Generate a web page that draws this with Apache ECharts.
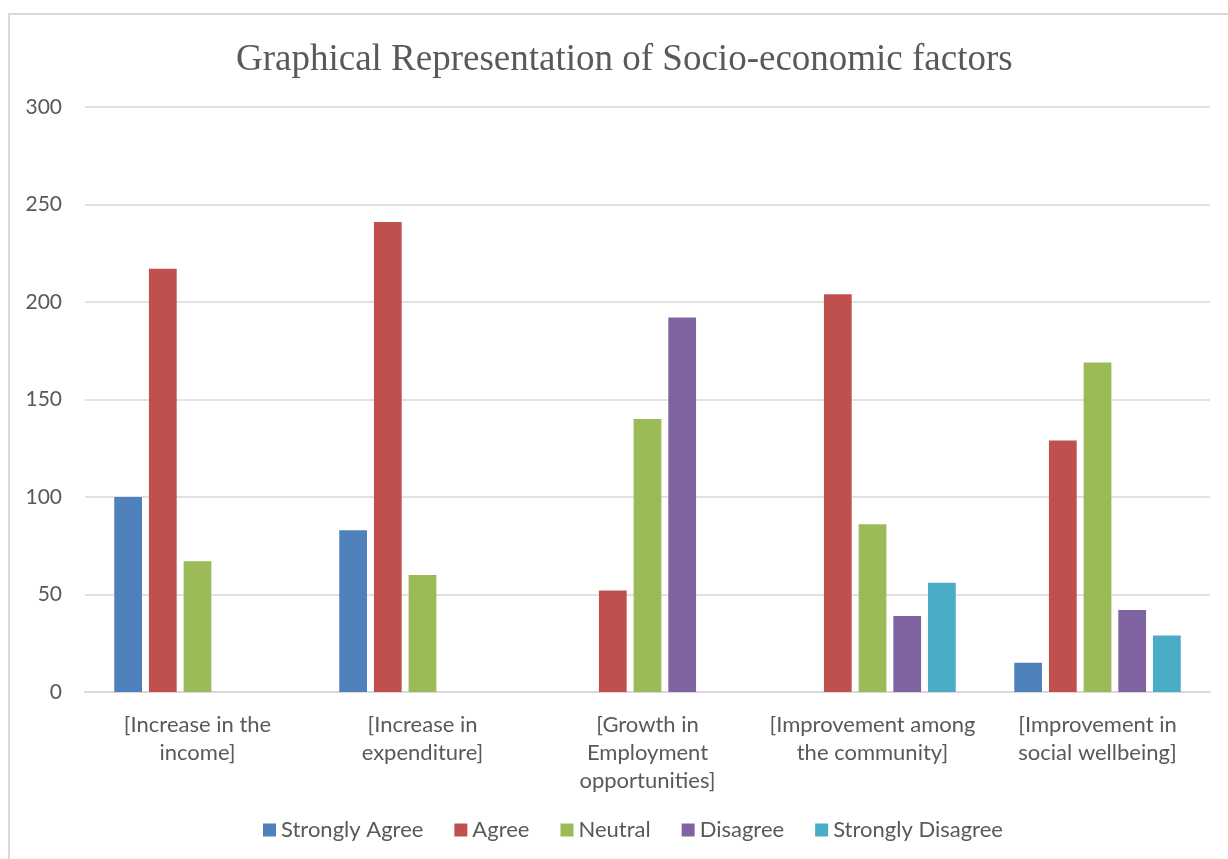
<!DOCTYPE html>
<html>
<head>
<meta charset="utf-8">
<script src="https://cdn.jsdelivr.net/npm/echarts@6/dist/echarts.min.js"></script>
<style>
  html, body { margin: 0; padding: 0; background: #fff; }
  #chart { width: 1228px; height: 859px; }
</style>
</head>
<body>
<div id="chart"></div>
<script>
// Survey responses per socio-economic factor
const categories = [
  '[Increase in the\nincome]',
  '[Increase in\nexpenditure]',
  '[Growth in\nEmployment\nopportunities]',
  '[Improvement among\nthe community]',
  '[Improvement in\nsocial wellbeing]'
];
const stronglyAgree    = [100,  83,   0,   0,  15];
const agree            = [217, 241,  52, 204, 129];
const neutral          = [ 67,  60, 140,  86, 169];
const disagree         = [  0,   0, 192,  39,  42];
const stronglyDisagree = [  0,   0,   0,  56,  29];

const seriesNames = ['Strongly Agree', 'Agree', 'Neutral', 'Disagree', 'Strongly Disagree'];
const seriesData = [stronglyAgree, agree, neutral, disagree, stronglyDisagree];
const colors = ['#4F81BD', '#C0504D', '#9BBB59', '#8064A2', '#4BACC6'];

const textFont = 'Lato, "Open Sans", sans-serif';
const textColor = '#595959';

const chart = echarts.init(document.getElementById('chart'), null, { renderer: 'canvas' });
chart.setOption({
  backgroundColor: '#ffffff',
  animation: false,
  color: colors,
  title: {
    text: 'Graphical Representation of Socio-economic factors',
    left: 231,
    top: 37,
    textStyle: {
      fontFamily: '"Liberation Serif", "Times New Roman", serif',
      fontSize: 37,
      fontWeight: 'normal',
      color: textColor
    }
  },
  graphic: [{
    type: 'rect',
    shape: { x: 9, y: 14, width: 1240, height: 870 },
    style: { fill: 'none', stroke: '#d9d9d9', lineWidth: 2 },
    silent: true
  }],
  legend: {
    data: seriesNames,
    bottom: 13,
    left: 258,
    itemWidth: 13,
    itemHeight: 13,
    itemGap: 31,
    icon: 'rect',
    textStyle: { fontFamily: textFont, fontSize: 22, color: textColor }
  },
  grid: { left: 85, right: 18, top: 107, bottom: 167, containLabel: false },
  xAxis: {
    type: 'category',
    data: categories,
    axisLine: { lineStyle: { color: '#d9d9d9', width: 2 } },
    axisTick: { show: false },
    axisLabel: {
      fontFamily: textFont,
      fontSize: 22,
      color: textColor,
      lineHeight: 28,
      margin: 19,
      interval: 0
    }
  },
  yAxis: {
    type: 'value',
    min: 0,
    max: 300,
    interval: 50,
    axisLine: { show: false },
    axisTick: { show: false },
    splitLine: { lineStyle: { color: '#d9d9d9', width: 1.5 } },
    axisLabel: {
      fontFamily: textFont,
      fontSize: 21,
      color: textColor,
      margin: 23
    }
  },
  series: seriesNames.map((name, i) => ({
    name: name,
    type: 'bar',
    data: seriesData[i],
    barGap: '25%',
    barCategoryGap: '26%',
    itemStyle: { color: colors[i] }
  }))
});
</script>
</body>
</html>
